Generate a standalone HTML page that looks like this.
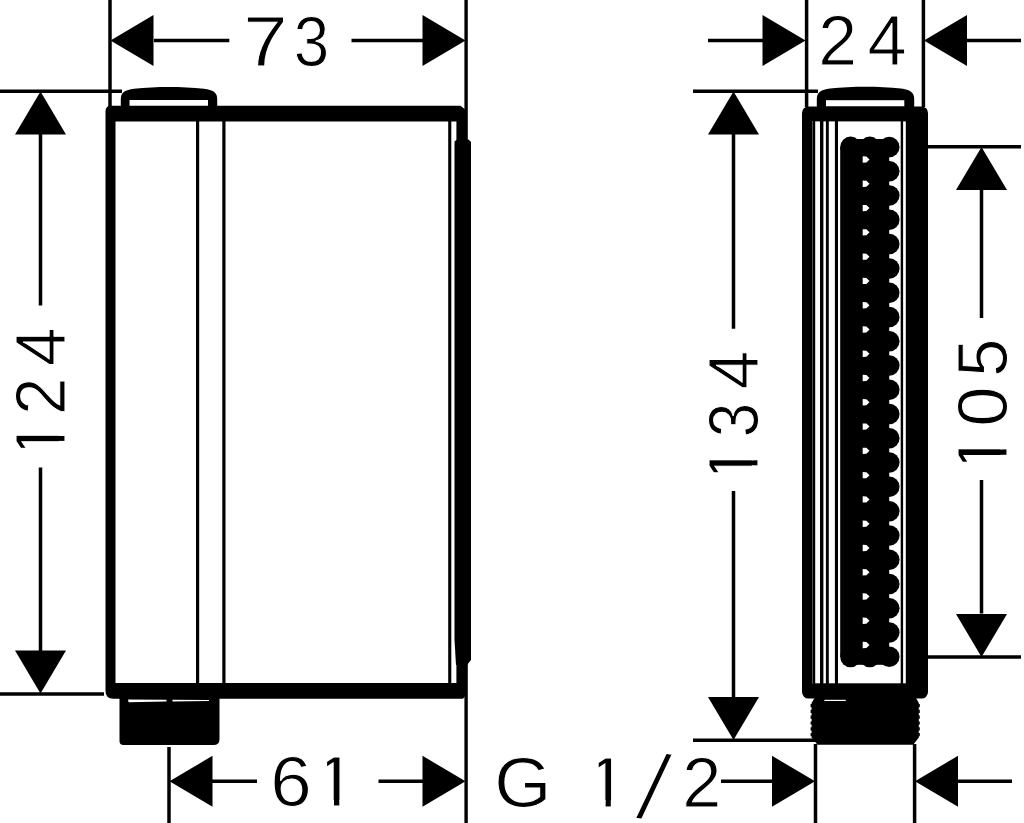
<!DOCTYPE html>
<html lang="en">
<head>
<meta charset="utf-8">
<title>Dimension drawing</title>
<style>
html,body{margin:0;padding:0;background:#fff;}
body{width:1024px;height:823px;overflow:hidden;}
svg{display:block;}
.t text{font-family:"Liberation Sans",sans-serif;fill:#000;stroke:#fff;stroke-width:1.0px;}
</style>
</head>
<body>
<svg width="1024" height="823" viewBox="0 0 1024 823">
<rect width="1024" height="823" fill="#fff"/>
<g stroke="#000" fill="none" stroke-linecap="butt">
<line x1="110" y1="0" x2="110" y2="107" stroke-width="3.5"/>
<line x1="466.1" y1="0" x2="466.1" y2="823" stroke-width="3.4"/>
<line x1="154" y1="40.5" x2="229.3" y2="40.5" stroke-width="3.5"/>
<line x1="351.5" y1="40.5" x2="423" y2="40.5" stroke-width="3.5"/>
<line x1="0" y1="91.2" x2="122" y2="91.2" stroke-width="3.5"/>
<line x1="0" y1="694" x2="104" y2="694" stroke-width="3.5"/>
<line x1="40.5" y1="134" x2="40.5" y2="305.5" stroke-width="3.5"/>
<line x1="40.5" y1="467.5" x2="40.5" y2="651" stroke-width="3.5"/>
<line x1="169" y1="747" x2="169" y2="823" stroke-width="3.5"/>
<line x1="212" y1="781.3" x2="257" y2="781.3" stroke-width="3.5"/>
<line x1="378.5" y1="781.3" x2="423" y2="781.3" stroke-width="3.5"/>
<line x1="708" y1="40.5" x2="764" y2="40.5" stroke-width="3.5"/>
<line x1="966.5" y1="40.5" x2="1021" y2="40.5" stroke-width="3.5"/>
<line x1="806.6" y1="0" x2="806.6" y2="107" stroke-width="3.5"/>
<line x1="923.4" y1="0" x2="923.4" y2="107" stroke-width="3.5"/>
<line x1="693" y1="91.2" x2="818" y2="91.2" stroke-width="3.5"/>
<line x1="693" y1="740.3" x2="815.5" y2="740.3" stroke-width="3.5"/>
<line x1="733.5" y1="134" x2="733.5" y2="328.8" stroke-width="3.5"/>
<line x1="733.5" y1="491" x2="733.5" y2="698" stroke-width="3.5"/>
<line x1="815.5" y1="744" x2="815.5" y2="823" stroke-width="3.5"/>
<line x1="914.6" y1="744" x2="914.6" y2="823" stroke-width="3.5"/>
<line x1="721" y1="781.3" x2="772.5" y2="781.3" stroke-width="3.5"/>
<line x1="957" y1="781.3" x2="1012" y2="781.3" stroke-width="3.5"/>
<line x1="926" y1="146.8" x2="1021" y2="146.8" stroke-width="3.5"/>
<line x1="926" y1="657" x2="1021" y2="657" stroke-width="3.5"/>
<line x1="981.5" y1="189" x2="981.5" y2="318" stroke-width="3.5"/>
<line x1="981.5" y1="480" x2="981.5" y2="613.5" stroke-width="3.5"/>
</g>
<polygon points="110.5,40.5 153.5,15.0 153.5,66.0" fill="#000"/>
<polygon points="465.5,40.5 422.5,15.0 422.5,66.0" fill="#000"/>
<polygon points="40.5,91.5 15.0,134.5 66.0,134.5" fill="#000"/>
<polygon points="40.5,693.5 15.0,650.5 66.0,650.5" fill="#000"/>
<polygon points="169.5,781.3 212.5,755.8 212.5,806.8" fill="#000"/>
<polygon points="465.5,781.3 422.5,755.8 422.5,806.8" fill="#000"/>
<polygon points="805.5,40.5 762.5,15.0 762.5,66.0" fill="#000"/>
<polygon points="924,40.5 967,15.0 967,66.0" fill="#000"/>
<polygon points="733.5,91.5 708.0,134.5 759.0,134.5" fill="#000"/>
<polygon points="733.5,740 708.0,697 759.0,697" fill="#000"/>
<polygon points="815,781.3 772,755.8 772,806.8" fill="#000"/>
<polygon points="915,781.3 958,755.8 958,806.8" fill="#000"/>
<polygon points="981.5,147 956.0,190 1007.0,190" fill="#000"/>
<polygon points="981.5,657 956.0,614 1007.0,614" fill="#000"/>
<path d="M120.8,107 V99 C120.8,92.5 125,89.8 134,88.7 C157,86.4 181,86.4 204,88.7 C213,89.8 217.2,92.5 217.2,99 V107 Z" fill="#000"/>
<rect x="129.5" y="100" width="78.5" height="6" fill="#fff"/>
<path d="M111,105.8 H460.5 L467,111 V694 L463,698.8 H113.5 Q105.5,698.8 105.5,690.8 V111.3 Q105.5,105.8 111,105.8 Z" fill="#000"/>
<rect x="115.5" y="121.5" width="340.9" height="561.5" fill="#fff"/>
<rect x="448.2" y="121" width="3.1" height="563" fill="#000"/>
<rect x="196" y="121" width="3.2" height="563" fill="#000"/>
<rect x="222.3" y="121" width="3.2" height="563" fill="#000"/>
<path d="M454.5,141.5 L457,139.6 H468.5 L471,142 V660 L467,665 H456 L454.5,640 Z" fill="#000"/>
<path d="M119.5,698 H219.5 V739 Q219.5,745 213.5,745 H123.5 Q119.5,745 119.5,741 Z" fill="#000"/>
<polygon points="128,699.6 166.5,699.8 166.5,701.4 128.6,702.2" fill="#fff"/>
<polygon points="172.5,699.8 209,699.9 209,701.0 172.5,701.4" fill="#fff"/>
<path d="M816.8,107 V99 C816.8,92.3 821,89.6 830,88.5 C853,86.2 878,86.2 901,88.5 C910,89.6 914.2,92.3 914.2,99 V107 Z" fill="#000"/>
<rect x="826" y="100.2" width="78.3" height="6.3" fill="#fff"/>
<rect x="802" y="106.4" width="126" height="592.2" fill="#000" rx="6.5"/>
<rect x="812" y="121.4" width="93.8" height="561.9" fill="#fff"/>
<rect x="813" y="121" width="2.2" height="563" fill="#000"/>
<rect x="812" y="121.4" width="1" height="561.9" fill="#555"/>
<rect x="820" y="121" width="3.4" height="563" fill="#000"/>
<rect x="825.9" y="121" width="2.9" height="563" fill="#000"/>
<rect x="834.9" y="121" width="3.1" height="563" fill="#000"/>
<rect x="900.7" y="121" width="2.4" height="563" fill="#000"/>
<path d="M814.5,698 L811.6,703 V737.5 L817.5,744.8 H913.2 L918.8,737.5 V703 L916,698 Z" fill="#000"/>
<path d="M811.4,704 V737 M919,704 V737" stroke="#000" stroke-width="1.6" stroke-dasharray="3.2 2.6" fill="none"/>
<rect x="824.4" y="699.8" width="21.3" height="1.2" fill="#fff"/>
<rect x="840.2" y="147.0" width="49.0" height="509.8" fill="#000"/>
<rect x="850.6" y="139.0" width="38.9" height="8.0" fill="#000"/>
<rect x="850.6" y="656.8" width="38.9" height="8.0" fill="#000"/>
<circle cx="850.6" cy="147.0" r="10.4"/>
<circle cx="850.6" cy="656.8" r="10.4"/>
<circle cx="869.8" cy="147.0" r="10.4"/>
<circle cx="869.8" cy="656.8" r="10.4"/>
<circle cx="889.3" cy="147.00" r="10.25"/>
<circle cx="889.3" cy="171.28" r="10.25"/>
<circle cx="889.3" cy="195.55" r="10.25"/>
<circle cx="889.3" cy="219.83" r="10.25"/>
<circle cx="889.3" cy="244.10" r="10.25"/>
<circle cx="889.3" cy="268.38" r="10.25"/>
<circle cx="889.3" cy="292.66" r="10.25"/>
<circle cx="889.3" cy="316.93" r="10.25"/>
<circle cx="889.3" cy="341.21" r="10.25"/>
<circle cx="889.3" cy="365.49" r="10.25"/>
<circle cx="889.3" cy="389.76" r="10.25"/>
<circle cx="889.3" cy="414.04" r="10.25"/>
<circle cx="889.3" cy="438.31" r="10.25"/>
<circle cx="889.3" cy="462.59" r="10.25"/>
<circle cx="889.3" cy="486.87" r="10.25"/>
<circle cx="889.3" cy="511.14" r="10.25"/>
<circle cx="889.3" cy="535.42" r="10.25"/>
<circle cx="889.3" cy="559.70" r="10.25"/>
<circle cx="889.3" cy="583.97" r="10.25"/>
<circle cx="889.3" cy="608.25" r="10.25"/>
<circle cx="889.3" cy="632.52" r="10.25"/>
<circle cx="889.3" cy="656.80" r="10.25"/>
<polygon points="862.7,156.34 866.4,156.54 869.5,159.54 866.4,162.54 862.7,162.74" fill="#fff"/>
<polygon points="862.7,180.61 866.4,180.81 869.5,183.81 866.4,186.81 862.7,187.01" fill="#fff"/>
<polygon points="862.7,204.89 866.4,205.09 869.5,208.09 866.4,211.09 862.7,211.29" fill="#fff"/>
<polygon points="862.7,229.17 866.4,229.37 869.5,232.37 866.4,235.37 862.7,235.57" fill="#fff"/>
<polygon points="862.7,253.44 866.4,253.64 869.5,256.64 866.4,259.64 862.7,259.84" fill="#fff"/>
<polygon points="862.7,277.72 866.4,277.92 869.5,280.92 866.4,283.92 862.7,284.12" fill="#fff"/>
<polygon points="862.7,302.0 866.4,302.2 869.5,305.2 866.4,308.2 862.7,308.4" fill="#fff"/>
<polygon points="862.7,326.27 866.4,326.47 869.5,329.47 866.4,332.47 862.7,332.67" fill="#fff"/>
<polygon points="862.7,350.55 866.4,350.75 869.5,353.75 866.4,356.75 862.7,356.95" fill="#fff"/>
<polygon points="862.7,374.82 866.4,375.02 869.5,378.02 866.4,381.02 862.7,381.22" fill="#fff"/>
<polygon points="862.7,399.1 866.4,399.3 869.5,402.3 866.4,405.3 862.7,405.5" fill="#fff"/>
<polygon points="862.7,423.38 866.4,423.58 869.5,426.58 866.4,429.58 862.7,429.78" fill="#fff"/>
<polygon points="862.7,447.65 866.4,447.85 869.5,450.85 866.4,453.85 862.7,454.05" fill="#fff"/>
<polygon points="862.7,471.93 866.4,472.13 869.5,475.13 866.4,478.13 862.7,478.33" fill="#fff"/>
<polygon points="862.7,496.2 866.4,496.4 869.5,499.4 866.4,502.4 862.7,502.6" fill="#fff"/>
<polygon points="862.7,520.48 866.4,520.68 869.5,523.68 866.4,526.68 862.7,526.88" fill="#fff"/>
<polygon points="862.7,544.76 866.4,544.96 869.5,547.96 866.4,550.96 862.7,551.16" fill="#fff"/>
<polygon points="862.7,569.03 866.4,569.23 869.5,572.23 866.4,575.23 862.7,575.43" fill="#fff"/>
<polygon points="862.7,593.31 866.4,593.51 869.5,596.51 866.4,599.51 862.7,599.71" fill="#fff"/>
<polygon points="862.7,617.59 866.4,617.79 869.5,620.79 866.4,623.79 862.7,623.99" fill="#fff"/>
<polygon points="862.7,641.86 866.4,642.06 869.5,645.06 866.4,648.06 862.7,648.26" fill="#fff"/>
<g class="t">
<text y="65.70" font-size="70.2"><tspan x="243.21" textLength="44.37" lengthAdjust="spacingAndGlyphs">7</tspan><tspan x="293.81" textLength="35.48" lengthAdjust="spacingAndGlyphs">3</tspan></text>
<text y="806.30" font-size="70.2"><tspan x="270.37" textLength="41.49" lengthAdjust="spacingAndGlyphs">6</tspan><tspan x="313.29" textLength="43.86" lengthAdjust="spacingAndGlyphs">1</tspan></text>
<rect x="317.23" y="799.93" width="16.77" height="7.36" fill="#fff"/>
<rect x="339.30" y="799.93" width="15.78" height="7.36" fill="#fff"/>
<rect x="317.23" y="755.26" width="9.87" height="44.68" fill="#fff"/>
<text y="65.00" font-size="70.2"><tspan x="818.31" textLength="38.87" lengthAdjust="spacingAndGlyphs">2</tspan><tspan x="867.41" textLength="39.21" lengthAdjust="spacingAndGlyphs">4</tspan></text>
<text y="806.50" font-size="70.2"><tspan x="494.22" textLength="57.22" lengthAdjust="spacingAndGlyphs">G</tspan> <tspan x="585.18" textLength="43.22" lengthAdjust="spacingAndGlyphs">1</tspan><tspan x="634.80" rotate="10" font-size="96" dy="11.20" stroke="#fff" stroke-width="2.4">/</tspan><tspan x="682.28" textLength="39.12" lengthAdjust="spacingAndGlyphs" dy="-11.20">2</tspan></text>
<rect x="589.06" y="800.13" width="16.54" height="7.36" fill="#fff"/>
<rect x="610.80" y="800.13" width="15.57" height="7.36" fill="#fff"/>
<rect x="589.06" y="755.46" width="9.64" height="44.68" fill="#fff"/>
<text transform="rotate(-90)" y="65.20" font-size="70.2"><tspan x="-460.46" textLength="41.32" lengthAdjust="spacingAndGlyphs">1</tspan><tspan x="-414.84" textLength="37.16" lengthAdjust="spacingAndGlyphs">2</tspan><tspan x="-365.96" textLength="38.55" lengthAdjust="spacingAndGlyphs">4</tspan></text>
<rect transform="rotate(-90)" x="-456.74" y="58.84" width="15.84" height="7.36" fill="#fff"/>
<rect transform="rotate(-90)" x="-436.00" y="58.84" width="14.91" height="7.36" fill="#fff"/>
<rect transform="rotate(-90)" x="-456.74" y="14.16" width="8.94" height="44.68" fill="#fff"/>
<text transform="rotate(-90)" y="758.20" font-size="70.2"><tspan x="-485.15" textLength="41.95" lengthAdjust="spacingAndGlyphs">1</tspan><tspan x="-437.33" textLength="34.54" lengthAdjust="spacingAndGlyphs">3</tspan><tspan x="-389.36" textLength="38.55" lengthAdjust="spacingAndGlyphs">4</tspan></text>
<rect transform="rotate(-90)" x="-481.37" y="751.84" width="16.07" height="7.36" fill="#fff"/>
<rect transform="rotate(-90)" x="-460.30" y="751.84" width="15.13" height="7.36" fill="#fff"/>
<rect transform="rotate(-90)" x="-481.37" y="707.16" width="9.17" height="44.68" fill="#fff"/>
<text transform="rotate(-90)" y="1006.80" font-size="70.2"><tspan x="-475.80" textLength="44.50" lengthAdjust="spacingAndGlyphs">1</tspan><tspan x="-426.71" textLength="40.42" lengthAdjust="spacingAndGlyphs">0</tspan><tspan x="-376.64" textLength="38.06" lengthAdjust="spacingAndGlyphs">5</tspan></text>
<rect transform="rotate(-90)" x="-471.80" y="1000.43" width="17.00" height="7.36" fill="#fff"/>
<rect transform="rotate(-90)" x="-449.40" y="1000.43" width="16.00" height="7.36" fill="#fff"/>
<rect transform="rotate(-90)" x="-471.80" y="955.76" width="10.10" height="44.68" fill="#fff"/>
</g>
</svg>
</body>
</html>
